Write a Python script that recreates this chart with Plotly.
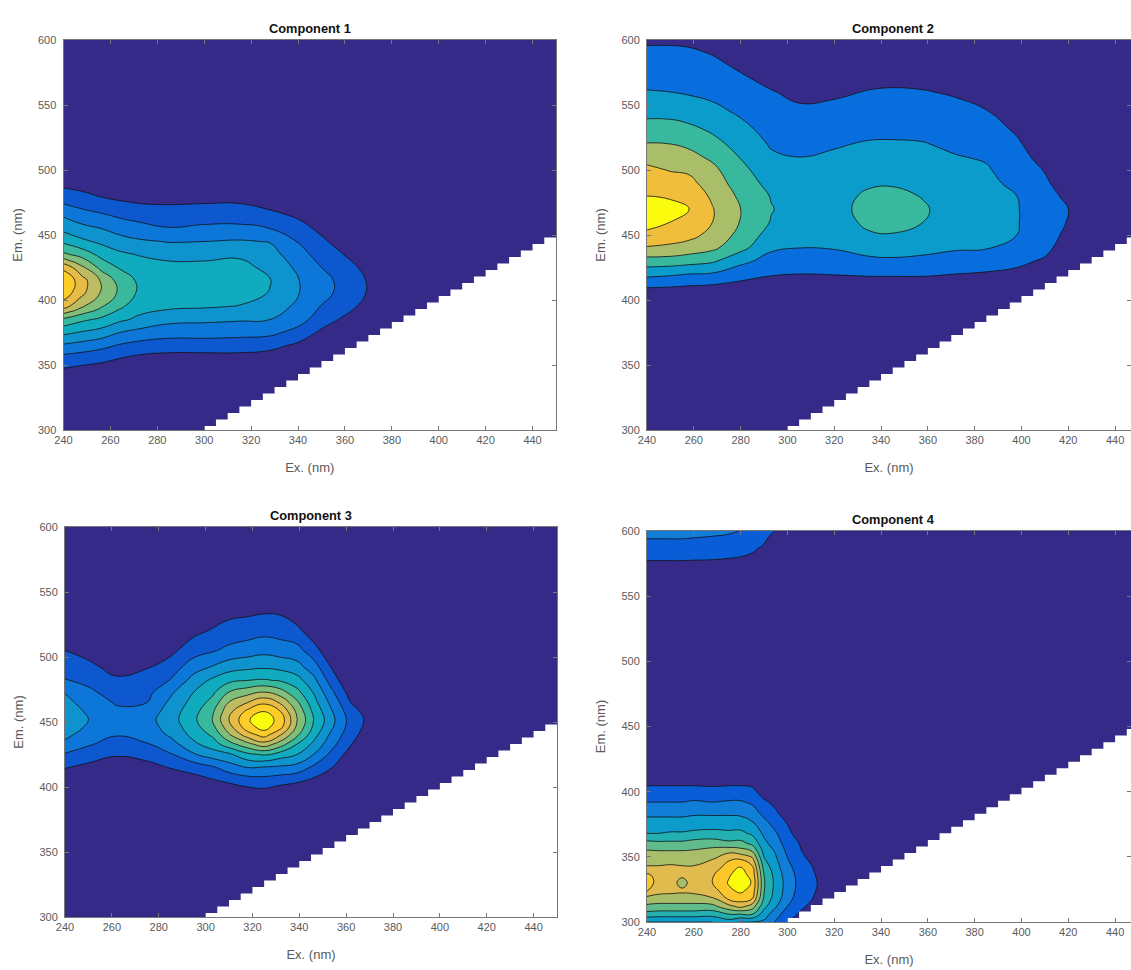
import plotly.graph_objects as go
import plotly.colors as pc

W, H = 1131, 970
PARULA = ['#352a87', '#0363e1', '#1485d4', '#06a7c6', '#38b99e', '#92bf73', '#d9ba56', '#fcc02e', '#fbfb0e']

X_TICKS = [240, 260, 280, 300, 320, 340, 360, 380, 400, 420, 440]
Y_TICKS = [300, 350, 400, 450, 500, 550, 600]
TITLES = ["Component 1", "Component 2", "Component 3", "Component 4"]
LEVELS = [10, 6, 10, 9]

# --- Component 1: each inner list is one Ex column, read along C1_EM
C1_EX = [240, 248, 256, 264, 272, 285, 300, 315, 328, 340, 350, 358, 365, 372, 450]
C1_EM = [300, 345, 355, 365, 375, 385, 395, 405, 415, 425, 435, 445, 455, 465, 475, 485, 495, 600]
C1_Z = [
    [0, .8, 1.6, 2.85, 4.25, 5.8, 8.4, 9.6, 9.9, 8.75, 6.2, 4.8, 3.7, 2.9, 1.9, 1.1, .3, 0],
    [0, .6, 1.45, 2.6, 3.9, 5.2, 7.1, 8.2, 8.4, 7.2, 5.6, 4.2, 3.3, 2.4, 1.6, .9, .2, 0],
    [0, .5, 1.25, 2.3, 3.6, 4.8, 6.1, 6.9, 6.9, 5.7, 4.7, 3.8, 3, 2.15, 1.3, .6, .1, 0],
    [0, .3, 1, 1.9, 3, 4.2, 5.2, 5.8, 5.6, 4.9, 4.2, 3.4, 2.6, 1.85, 1.1, .4, 0, 0],
    [0, .1, .75, 1.65, 2.7, 3.8, 4.4, 4.85, 4.85, 4.5, 3.95, 3.15, 2.35, 1.65, .95, .3, 0, 0],
    [0, 0, .6, 1.5, 2.4, 3.3, 4.2, 4.5, 4.6, 4.3, 3.7, 2.95, 2.05, 1.5, .9, .3, 0, 0],
    [0, 0, .6, 1.5, 2.4, 3.2, 4.1, 4.5, 4.6, 4.3, 3.7, 3, 2.2, 1.55, .95, .3, 0, 0],
    [0, 0, .6, 1.5, 2.3, 3.1, 3.95, 4.4, 4.4, 4.3, 3.85, 3.1, 2.2, 1.6, .95, .3, 0, 0],
    [0, 0, .5, 1.3, 2.25, 3, 3.5, 3.95, 4.05, 3.75, 3.4, 2.95, 2, 1.3, .6, .1, 0, 0],
    [0, 0, .1, .8, 1.65, 2.4, 2.8, 3.05, 3.05, 2.8, 2.4, 1.95, 1.4, .85, .2, 0, 0, 0],
    [0, 0, 0, .2, .8, 1.5, 1.95, 2.3, 2.35, 2, 1.6, 1.2, .75, .2, 0, 0, 0, 0],
    [0, 0, 0, 0, .3, .95, 1.35, 1.8, 1.8, 1.5, 1.1, .65, .2, 0, 0, 0, 0, 0],
    [0, 0, 0, 0, 0, .3, 1, 1.3, 1.3, 1.05, .6, .15, 0, 0, 0, 0, 0, 0],
    [0, 0, 0, 0, 0, 0, .15, .75, .75, .45, 0, 0, 0, 0, 0, 0, 0, 0],
    [0, 0, 0, 0, 0, 0, 0, 0, 0, 0, 0, 0, 0, 0, 0, 0, 0, 0],
]

# --- Component 2
C2_EX = [240, 250, 258, 268, 280, 293, 305, 320, 335, 345, 358, 372, 385, 398, 410, 420, 428, 450]
C2_EM = [300, 400, 410, 420, 430, 440, 450, 460, 470, 480, 490, 500, 510, 520, 530, 545, 560, 575, 590, 600]
C2_Z = [
    [0, .2, 1.05, 2.3, 3.6, 4.9, 5.75, 6.4, 6.6, 6, 5.6, 5.2, 4.7, 4.05, 3.5, 2.7, 2.05, 1.6, 1.2, .85],
    [0, .1, 1, 2.15, 3.55, 4.8, 5.45, 6, 6.4, 5.85, 5.4, 4.95, 4.5, 4, 3.45, 2.7, 2, 1.6, 1.2, .85],
    [0, .1, .9, 2, 3.4, 4.55, 5.3, 5.8, 6, 5.6, 5.25, 4.85, 4.3, 3.8, 3.3, 2.5, 1.9, 1.5, 1.15, .8],
    [0, .05, .8, 1.9, 3.15, 4.2, 4.7, 5, 5.05, 4.85, 4.55, 4.25, 3.8, 3.3, 2.9, 2.25, 1.75, 1.35, .95, .65],
    [0, 0, .6, 1.45, 2.25, 3.3, 3.7, 3.95, 4, 3.8, 3.5, 3.25, 2.95, 2.65, 2.3, 1.85, 1.4, 1, .55, .2],
    [0, 0, .4, 1.1, 1.65, 2.15, 2.6, 2.95, 3.05, 2.95, 2.7, 2.45, 2.15, 1.9, 1.7, 1.4, 1.05, .65, .25, 0],
    [0, 0, .3, 1, 1.5, 2, 2.3, 2.5, 2.6, 2.55, 2.4, 2.2, 2, 1.75, 1.5, 1.15, .8, .4, 0, 0],
    [0, 0, .3, 1.05, 1.6, 2.05, 2.35, 2.6, 2.7, 2.6, 2.5, 2.35, 2.15, 1.9, 1.65, 1.25, .85, .4, 0, 0],
    [0, 0, .3, 1.15, 1.8, 2.35, 2.9, 3.2, 3.3, 3.2, 2.85, 2.5, 2.3, 2.1, 1.75, 1.4, 1.05, .6, 0, 0],
    [0, 0, .3, 1.15, 1.85, 2.4, 2.95, 3.3, 3.4, 3.25, 2.9, 2.6, 2.35, 2.1, 1.8, 1.45, 1.1, .65, .1, 0],
    [0, 0, .3, 1.15, 1.75, 2.3, 2.7, 3, 3.1, 2.95, 2.7, 2.5, 2.3, 2.05, 1.75, 1.4, 1.05, .6, .1, 0],
    [0, 0, .25, 1, 1.6, 2.1, 2.3, 2.5, 2.6, 2.5, 2.35, 2.2, 2.05, 1.8, 1.6, 1.25, .9, .4, 0, 0],
    [0, 0, .2, .9, 1.5, 2.05, 2.25, 2.35, 2.4, 2.35, 2.25, 2.1, 1.9, 1.7, 1.45, 1.05, .5, .1, 0, 0],
    [0, 0, .15, .75, 1.25, 1.65, 2, 2.05, 2.05, 2, 1.75, 1.55, 1.35, 1.15, .9, .4, 0, 0, 0, 0],
    [0, 0, 0, .2, .85, 1.3, 1.45, 1.5, 1.5, 1.4, 1.15, .95, .65, .4, .1, 0, 0, 0, 0, 0],
    [0, 0, 0, 0, .1, .4, .75, .95, 1, .75, .5, .25, .05, 0, 0, 0, 0, 0, 0, 0],
    [0, 0, 0, 0, 0, .1, .3, .45, .45, .3, .1, 0, 0, 0, 0, 0, 0, 0, 0, 0],
    [0, 0, 0, 0, 0, 0, 0, 0, 0, 0, 0, 0, 0, 0, 0, 0, 0, 0, 0, 0],
]

# --- Component 3
C3_EX = [240, 250, 262, 275, 285, 295, 303, 310, 318, 325, 332, 339, 346, 354, 362, 372, 450]
C3_EM = [300, 395, 405, 415, 425, 433, 440, 446, 452, 458, 465, 473, 482, 492, 505, 520, 535, 600]
C3_Z = [
    [0, 0, .3, 1.05, 1.9, 2.75, 3.25, 3.55, 3.7, 3.55, 3.3, 2.95, 2.05, 1.6, 1, .3, 0, 0],
    [0, 0, 0, .7, 1.55, 2.1, 2.5, 2.85, 3, 2.85, 2.55, 2.2, 1.75, 1.3, .6, 0, 0, 0],
    [0, 0, 0, .4, 1.1, 1.6, 2.05, 2.3, 2.35, 2.2, 1.9, 1.55, 1.2, .6, .1, 0, 0, 0],
    [0, 0, 0, .6, 1.4, 1.95, 2.3, 2.55, 2.65, 2.4, 2, 1.7, 1.35, .95, .4, 0, 0, 0],
    [0, 0, .3, 1.05, 1.9, 2.55, 3.15, 3.4, 3.55, 3.45, 3.2, 2.8, 2.05, 1.45, .75, .1, 0, 0],
    [0, 0, .6, 1.4, 2.9, 3.8, 4.3, 4.6, 4.8, 4.65, 4.35, 4, 3.4, 2.6, 1.55, .75, .1, 0],
    [0, 0, .9, 1.85, 3.5, 4.5, 5.15, 5.7, 6.05, 5.85, 5.35, 4.8, 4.2, 3.1, 1.9, 1.1, .4, 0],
    [0, .2, 1.2, 2.5, 3.8, 5.6, 6.85, 7.6, 8, 7.7, 7.05, 6, 4.75, 3.6, 2.25, 1.4, .7, 0],
    [0, .5, 1.5, 3, 4.75, 6.7, 8.5, 9.6, 9.9, 9.3, 8, 6.6, 5, 3.8, 2.5, 1.55, .8, 0],
    [0, .6, 1.6, 2.9, 5.1, 7.6, 9.4, 10.4, 10.6, 10, 8.8, 7, 5.1, 3.9, 2.7, 1.7, .9, 0],
    [0, .3, 1.4, 2.8, 4.5, 6.5, 8, 9.3, 9.6, 9, 7.85, 6.4, 4.9, 3.75, 2.5, 1.6, .85, 0],
    [0, 0, 1.2, 2.6, 4, 5, 6.2, 6.8, 7.05, 6.8, 6.2, 5.3, 4.4, 3.4, 2.35, 1.3, .3, 0],
    [0, 0, .8, 1.8, 3, 3.8, 4.4, 4.85, 5.05, 4.8, 4.4, 3.95, 3.3, 2.5, 1.45, .4, 0, 0],
    [0, 0, .2, 1, 1.7, 2.3, 2.7, 3.1, 3.25, 3.05, 2.65, 2.15, 1.5, .9, .15, 0, 0, 0],
    [0, 0, 0, .1, .55, 1.05, 1.35, 1.55, 1.6, 1.4, 1, .55, .1, 0, 0, 0, 0, 0],
    [0, 0, 0, 0, 0, 0, .2, .4, .5, .35, .1, 0, 0, 0, 0, 0, 0, 0],
    [0, 0, 0, 0, 0, 0, 0, 0, 0, 0, 0, 0, 0, 0, 0, 0, 0, 0],
]

# --- Component 4
C4_EX = [240, 245, 250, 255, 260, 268, 275, 280, 285, 290, 295, 300, 305, 310, 315, 450]
C4_EM = [300, 306, 312, 318, 324, 330, 336, 342, 348, 354, 360, 368, 376, 384, 392, 400, 408, 420, 570, 578, 586, 594, 600]
C4_Z = [
    [3, 4.6, 5.8, 6.6, 8.1, 8.4, 8.2, 7.1, 6.6, 6.15, 5.4, 4, 3.4, 2.7, 2, 1.4, .7, 0, 0, 1.1, 1.4, 2, 2.5],
    [3, 4.5, 5.7, 6.5, 7.4, 7.7, 7.6, 7.1, 6.6, 6.1, 5.3, 4, 3.4, 2.7, 2, 1.4, .7, 0, 0, 1.1, 1.5, 2, 2.4],
    [3, 4.5, 5.7, 6.5, 7.3, 7.5, 7.5, 7.2, 6.6, 6.1, 5.3, 4.1, 3.4, 2.7, 2, 1.4, .7, 0, 0, 1.1, 1.5, 2, 2.4],
    [3, 4.5, 5.7, 6.5, 7.2, 6.6, 7.2, 7.1, 6.6, 6.1, 5.3, 4.1, 3.4, 2.7, 2, 1.4, .7, 0, 0, 1.1, 1.55, 2, 2.4],
    [3, 4.5, 5.7, 6.5, 7.3, 7.5, 7.4, 7.1, 6.6, 6.15, 5.5, 4.2, 3.5, 2.8, 2.1, 1.4, .7, 0, 0, 1.05, 1.5, 1.95, 2.35],
    [3, 4.4, 5.7, 6.9, 7.5, 8, 7.9, 7.5, 7, 6.4, 5.6, 4.3, 3.5, 2.8, 2, 1.4, .6, 0, 0, 1, 1.4, 1.85, 2.3],
    [3.5, 5, 6.7, 8.2, 8.8, 9.1, 8.9, 8.4, 7.9, 6.8, 5.3, 4.2, 3.5, 2.8, 2.1, 1.4, .7, 0, 0, .95, 1.35, 1.7, 2.2],
    [2.9, 5, 7.3, 8.5, 9.2, 9.7, 9.5, 9.1, 8, 6.5, 5.35, 4.25, 3.45, 2.75, 2.1, 1.4, .7, 0, 0, .9, 1.25, 1.6, 1.95],
    [3, 5, 6.5, 8, 8.6, 8.9, 8.6, 8.2, 7.3, 6, 4.8, 3.8, 3.1, 2.4, 1.85, 1.3, .6, 0, 0, .8, 1.1, 1.35, 1.5],
    [2.8, 3.5, 4.3, 4.8, 5.05, 5.1, 5, 4.6, 4.1, 3.7, 3.3, 2.8, 2.3, 1.7, 1.2, .5, 0, 0, 0, .6, .85, 1.15, 1.4],
    [1.9, 2.4, 3.1, 3.5, 3.65, 3.7, 3.6, 3.4, 3.15, 2.9, 2.5, 2.1, 1.6, 1.15, .7, .1, 0, 0, 0, 0, .3, .6, .95],
    [1, 1.5, 2, 2.4, 2.55, 2.6, 2.5, 2.3, 2.05, 1.8, 1.55, 1.25, .95, .4, .05, 0, 0, 0, 0, 0, 0, 0, .1],
    [.6, .9, 1.25, 1.5, 1.7, 1.75, 1.7, 1.55, 1.35, 1.15, 1, .6, .15, 0, 0, 0, 0, 0, 0, 0, 0, 0, 0],
    [.2, .5, .8, 1.1, 1.25, 1.3, 1.25, 1.1, .85, .55, .3, .05, 0, 0, 0, 0, 0, 0, 0, 0, 0, 0, 0],
    [0, 0, 0, .4, .65, .75, .6, .4, .2, 0, 0, 0, 0, 0, 0, 0, 0, 0, 0, 0, 0, 0, 0],
    [0, 0, 0, 0, 0, 0, 0, 0, 0, 0, 0, 0, 0, 0, 0, 0, 0, 0, 0, 0, 0, 0, 0],
]

EXS = [C1_EX, C2_EX, C3_EX, C4_EX]
EMS = [C1_EM, C2_EM, C3_EM, C4_EM]
ZS = [C1_Z, C2_Z, C3_Z, C4_Z]

# panel boxes in pixels: left, right, top, bottom
BOXES = [(63.5, 556, 40, 430), (647, 1131, 40, 430), (65, 557, 527, 917), (647, 1131, 531, 922)]
X_MAX = [450, 446.8, 450, 446.8]

# no data where emission lies below excitation: white staircase, one step per 5 nm
STEP_EX = list(range(300, 450, 5))
MASK_X, MASK_Y = [], []
for v in STEP_EX:
    MASK_X += [v, v + 5]
    MASK_Y += [v + 3, v + 3]
MASK_X += [450, 300, 300]
MASK_Y += [300, 300, 303]


def stepped(n):
    scale = []
    for k in range(n + 1):
        col = pc.sample_colorscale(PARULA, k / n)[0]
        scale.append([k / (n + 1), col])
        scale.append([(k + 1) / (n + 1), col])
    return scale


fig = go.Figure()
layout = {}
notes = []
for i in range(4):
    n = LEVELS[i]
    suffix = "" if i == 0 else str(i + 1)
    xa, ya = f"x{suffix}", f"y{suffix}"
    rows = [list(r) for r in zip(*ZS[i])]
    fig.add_trace(go.Contour(
        x=EXS[i], y=EMS[i], z=rows, xaxis=xa, yaxis=ya,
        zmin=0, zmax=n + 1, colorscale=stepped(n), showscale=False,
        contours=dict(start=1, end=n, size=1, coloring="fill", showlabels=False),
        line=dict(color="#111111", width=0.8, smoothing=1.3),
        hoverinfo="skip",
    ))
    fig.add_trace(go.Scatter(
        x=MASK_X, y=MASK_Y, xaxis=xa, yaxis=ya, mode="none", fill="toself",
        fillcolor="#ffffff", hoverinfo="skip",
    ))
    l, r, t, b = BOXES[i]
    axis_common = dict(
        showgrid=False, zeroline=False, showline=True, linecolor="#777777", linewidth=1,
        mirror="ticks", ticks="inside", ticklen=4, tickwidth=1, tickcolor="#777777",
        tickfont=dict(family="Liberation Sans", size=11, color="#5a5a5a"),
        layer="above traces", automargin=False,
    )
    layout[f"xaxis{suffix}"] = dict(
        axis_common, domain=[l / W, r / W], range=[240, X_MAX[i]], anchor=ya,
        tickvals=X_TICKS,
        title=dict(text="Ex. (nm)", standoff=17, font=dict(family="Liberation Sans", size=13, color="#5a5a5a")),
    )
    layout[f"yaxis{suffix}"] = dict(
        axis_common, domain=[1 - b / H, 1 - t / H], range=[300, 600], anchor=xa,
        tickvals=Y_TICKS, ticklabelstandoff=4,
        title=dict(text="Em. (nm)", standoff=12, font=dict(family="Liberation Sans", size=13, color="#5a5a5a")),
    )
    notes.append(dict(
        text=f"<b>{TITLES[i]}</b>", x=(l + (492.5 if i % 2 == 0 else 492) / 2) / W, y=1 - (t - 12) / H,
        xref="paper", yref="paper", showarrow=False, xanchor="center", yanchor="middle",
        font=dict(family="Liberation Sans", size=12.8, color="#111111"),
    ))

fig.update_layout(
    width=W, height=H, margin=dict(l=0, r=0, t=0, b=0), paper_bgcolor="#ffffff",
    plot_bgcolor="#ffffff", showlegend=False, annotations=notes, **layout,
)
fig.write_html(
    "out.html",
    config={"displayModeBar": False},
    post_script="document.body.style.margin='0';document.documentElement.style.overflow='hidden';",
)
